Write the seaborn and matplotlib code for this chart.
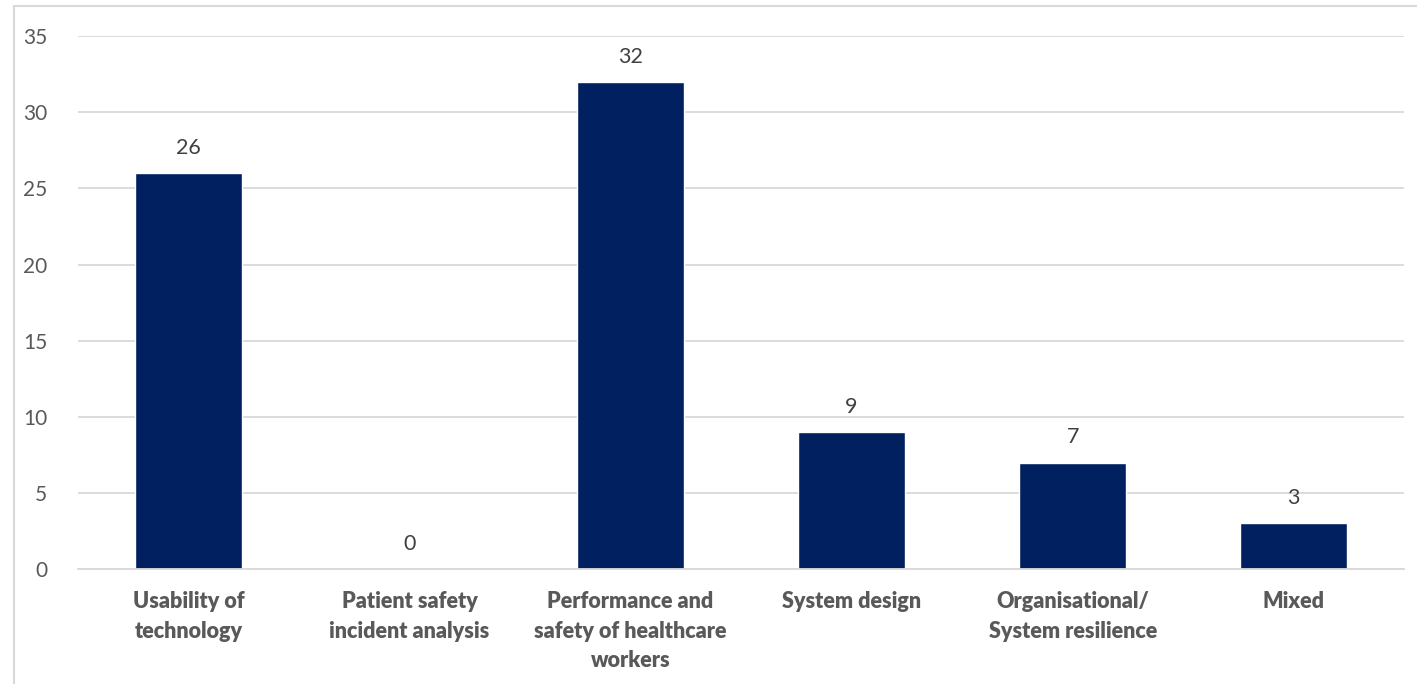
import seaborn as sns
import matplotlib.pyplot as plt
from matplotlib.patches import Rectangle

categories = ['Usability of\ntechnology', 'Patient safety\nincident analysis',
              'Performance and\nsafety of healthcare\nworkers', 'System design',
              'Organisational/\nSystem resilience', 'Mixed']
counts = [26, 0, 32, 9, 7, 3]

sns.set_style('white')
plt.rcParams['font.family'] = ['Lato', 'DejaVu Sans']

fig = plt.figure(figsize=(14.17, 6.84), dpi=100)
ax = fig.add_axes([0.055, 0.168, 0.936, 0.779])

sns.barplot(x=categories, y=counts, color='#002060', width=0.485, saturation=1, ax=ax)

ax.set_ylim(0, 35)
ax.set_yticks(range(0, 36, 5))
ax.yaxis.grid(True, color='#d9d9d9', linewidth=1.3)
ax.set_axisbelow(True)
for s in ['top', 'right', 'left']:
    ax.spines[s].set_visible(False)
ax.spines['bottom'].set_color('#d9d9d9')
ax.spines['bottom'].set_linewidth(1.3)

ax.tick_params(axis='y', labelsize=15, labelcolor='#595959', length=0, pad=22)
ax.tick_params(axis='x', length=0, pad=16)
ax.set_xticks(range(len(categories)))
ax.set_xticklabels(categories, fontsize=15.5, fontweight='heavy', color='#595959',
                   linespacing=1.5, va='top')

for i, v in enumerate(counts):
    ax.annotate(str(v), (i, v), xytext=(0, 11), textcoords='offset points',
                ha='center', va='bottom', fontsize=15.5, color='#404040')

# chart area border
fig.patches.append(Rectangle((14 / 1417, -0.1), 1.2, 1 - 6 / 684 + 0.1,
                             transform=fig.transFigure, fill=False,
                             edgecolor='#d9d9d9', linewidth=1.5))

fig.savefig('out.png', dpi=100)
